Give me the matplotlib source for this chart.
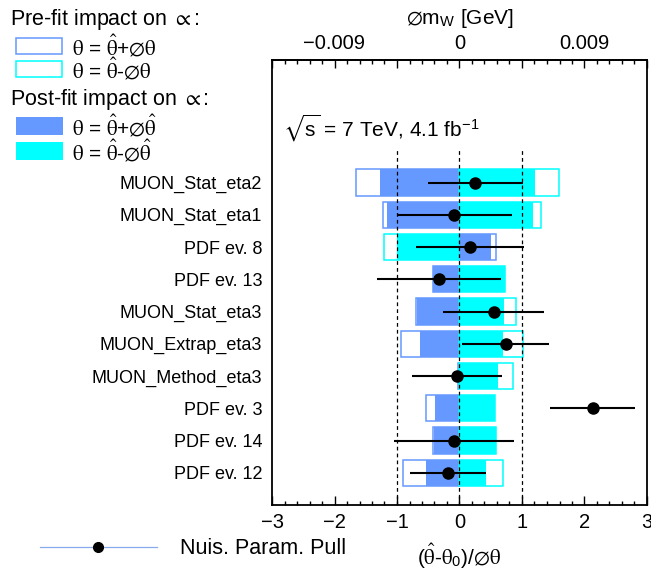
import numpy as np
import matplotlib
matplotlib.use("Agg")
import matplotlib.pyplot as plt
from matplotlib.patches import Rectangle
from matplotlib.lines import Line2D
from matplotlib.ticker import MultipleLocator, FuncFormatter

plt.rcParams['font.family'] = ['Liberation Sans', 'DejaVu Sans']
plt.rcParams['mathtext.fontset'] = 'stix'

# nuisance parameters, ranked top to bottom
params = ["MUON_Stat_eta2", "MUON_Stat_eta1", "PDF ev. 8", "PDF ev. 13",
          "MUON_Stat_eta3", "MUON_Extrap_eta3", "MUON_Method_eta3",
          "PDF ev. 3", "PDF ev. 14", "PDF ev. 12"]

# impact on mW [GeV]
pre_up = [-0.00747, -0.00554, 0.00261, -0.00194, -0.00315,
          -0.00419, -0.00009, -0.00243, -0.00194, -0.00405]
pre_down = [0.00720, 0.00585, -0.00540, 0.00329, 0.00405,
            0.00459, 0.00383, 0.00257, 0.00261, 0.00315]
post_up = [-0.00572, -0.00522, 0.00230, -0.00194, -0.00306,
           -0.00284, -0.00009, -0.00176, -0.00185, -0.00239]
post_down = [0.00545, 0.00531, -0.00450, 0.00329, 0.00324,
             0.00311, 0.00279, 0.00257, 0.00261, 0.00194]

# pulls (theta_hat - theta0)/dtheta
pull = [0.25, -0.08, 0.17, -0.33, 0.55, 0.74, -0.04, 2.13, -0.085, -0.18]
pull_err = [0.76, 0.92, 0.86, 0.99, 0.81, 0.70, 0.72, 0.68, 0.955, 0.61]

gev = 0.0045  # GeV per unit on the pull axis
blue = '#6699ff'
cyan = '#00ffff'

W, H = 651, 572
fig = plt.figure(figsize=(W / 100, H / 100), dpi=100)
ax = fig.add_axes([272 / W, 67 / H, 375 / W, 445 / H])

n = len(params)
ys = np.arange(n, 0, -1)
h = 0.82

ax.barh(ys, np.array(post_up) / gev, height=h, color=blue, lw=0, zorder=1)
ax.barh(ys, np.array(post_down) / gev, height=h, color=cyan, lw=0, zorder=1)
ax.barh(ys, np.array(pre_up) / gev, height=h, fill=False, edgecolor=blue, lw=1.1, zorder=1.2)
ax.barh(ys, np.array(pre_down) / gev, height=h, fill=False, edgecolor=cyan, lw=1.1, zorder=1.2)

ax.vlines([-1, 0, 1], 0, n + 1, colors='k', linestyles=(0, (3, 2.5)), lw=0.9, zorder=2)

ax.errorbar(pull, ys, xerr=pull_err, fmt='o', color='k', ms=8, lw=1.5,
            capsize=0, zorder=3)

ax.set_xlim(-3, 3)
ax.set_ylim(0, 13.8)
ax.set_yticks(ys)
ax.set_yticklabels(params, fontsize=13)
ax.tick_params(axis='y', length=0, pad=7)
ax.xaxis.set_major_locator(MultipleLocator(1))
ax.xaxis.set_minor_locator(MultipleLocator(0.2))
ax.tick_params(axis='x', which='both', direction='in', top=False, labelsize=14.5, pad=6)
ax.tick_params(axis='x', which='major', length=6.5, width=1)
ax.tick_params(axis='x', which='minor', length=3, width=1)
for s in ax.spines.values():
    s.set_linewidth(1.3)
ax.set_xlabel(r'($\hat{\mathrm{\theta}}$-$\mathrm{\theta}_{\mathregular{0}}$)/$\varnothing\mathrm{\theta}$',
              fontsize=15, labelpad=7)

sec = ax.secondary_xaxis('top', functions=(lambda x: x * gev, lambda x: x / gev))
sec.xaxis.set_major_locator(MultipleLocator(0.0045))
sec.xaxis.set_minor_locator(MultipleLocator(0.0009))


def top_fmt(v, pos):
    k = int(round(v / 0.0045))
    if k % 2:
        return ''
    if k == 0:
        return '0'
    return ('%.3f' % v).replace('-', '\u2212')


sec.xaxis.set_major_formatter(FuncFormatter(top_fmt))
sec.tick_params(axis='x', which='both', direction='in', labelsize=14.5, pad=5)
sec.tick_params(axis='x', which='major', length=6, width=1)
sec.tick_params(axis='x', which='minor', length=3, width=1)
sec.spines['top'].set_linewidth(1.3)
sec.set_xlabel(r'$\varnothing$m$_{\mathregular{W}}$ [GeV]', fontsize=15, labelpad=7)

ax.text(0.03, 0.847, r'$\sqrt{\mathregular{s}}$ = 7 TeV, 4.1 fb$^{\mathregular{-1}}$',
        transform=ax.transAxes, fontsize=15, va='center')

# impact legend, top left
def fy(py):
    return 1 - py / H


fig.text(10 / W, fy(20), r'Pre-fit impact on $\propto$:', fontsize=15.5, va='center')
fig.text(10 / W, fy(99), r'Post-fit impact on $\propto$:', fontsize=15.5, va='center')
th = r'\mathrm{\theta}'
thh = r'\hat{\mathrm{\theta}}'
entries = [
    (46, False, blue, rf'${th}$ = ${thh}$+$\varnothing{th}$'),
    (69, False, cyan, rf'${th}$ = ${thh}$-$\varnothing{th}$'),
    (126, True, blue, rf'${th}$ = ${thh}$+$\varnothing{thh}$'),
    (151, True, cyan, rf'${th}$ = ${thh}$-$\varnothing{thh}$'),
]
for py, filled, col, label in entries:
    if filled:
        box = Rectangle((16 / W, fy(py + 9)), 47 / W, 18 / H, transform=fig.transFigure,
                        facecolor=col, edgecolor='none')
    else:
        box = Rectangle((16 / W, fy(py + 8)), 46 / W, 16 / H, transform=fig.transFigure,
                        fill=False, edgecolor=col, lw=1.1)
    fig.add_artist(box)
    fig.text(72 / W, fy(py), label, fontsize=15, va='center')

# pull legend, bottom left
fig.add_artist(Line2D([40 / W, 157 / W], [fy(547)] * 2, color='#88aaee', lw=0.9))
fig.add_artist(Line2D([98 / W], [fy(547)], marker='o', color='k', ms=7))
fig.text(180 / W, fy(548), 'Nuis. Param. Pull', fontsize=15.5, va='center')

fig.savefig('out.png', dpi=100)
